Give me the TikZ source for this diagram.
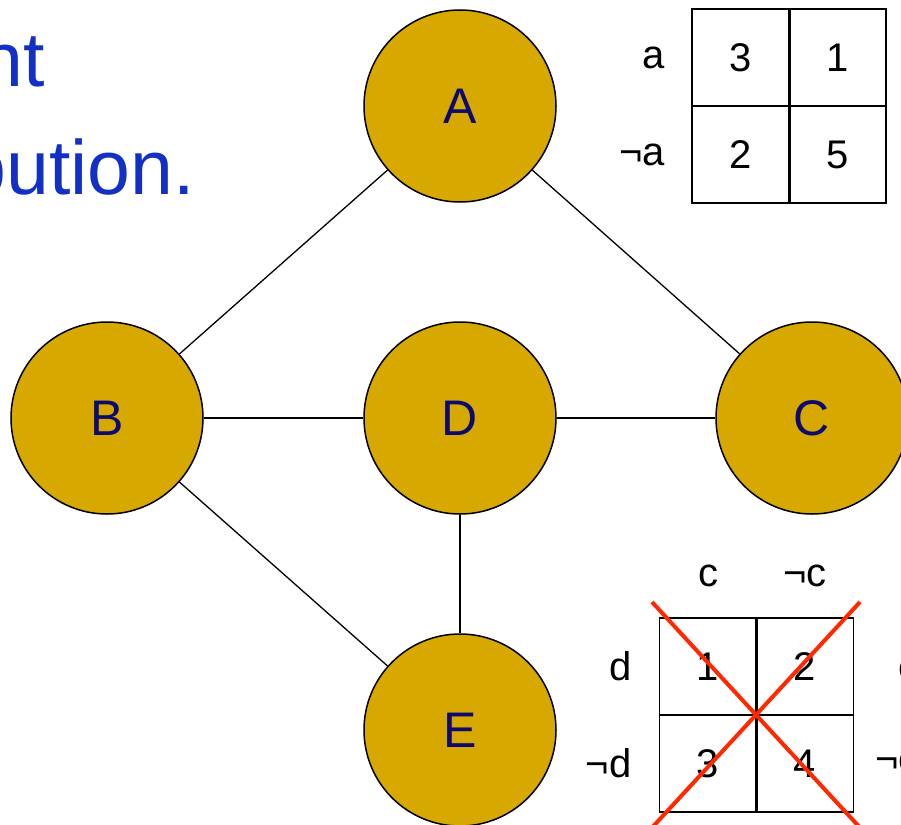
\documentclass[tikz,border=0pt]{standalone}
\usepackage{fontspec}
\setmainfont{Liberation Sans}
\usetikzlibrary{positioning}
\definecolor{nodegold}{RGB}{214,168,0}
\definecolor{labelnavy}{RGB}{12,10,112}
\definecolor{titleblue}{RGB}{18,48,196}
\definecolor{crossred}{RGB}{255,40,0}

\begin{document}
\begin{tikzpicture}[x=1pt, y=-1pt,
  var/.style={circle, draw, line width=1.5pt, fill=nodegold, minimum size=192pt,
    inner sep=0pt, text=labelnavy, font=\fontsize{50}{60}\selectfont},
  cell/.style={draw, line width=1.8pt, minimum size=97pt, inner sep=0pt, outer sep=0pt,
    font=\fontsize{40}{48}\selectfont},
  lbl/.style={inner sep=0pt, font=\fontsize{40}{48}\selectfont},
  link/.style={line width=1.3pt},
  title/.style={inner sep=0pt, text=titleblue, font=\fontsize{77}{90}\selectfont},
]
\useasboundingbox (0,0) rectangle (901,824);
\clip (0,0) rectangle (901,824);

%% slide title (cut off at the left)
\node[title, anchor=base east] (t1) at (45,87) {nt};
\node[title, anchor=base east] (t2) at (195,194) {bution.};

%% variables
\node[var] (A) at (460,106) {A};
\node[var] (B) at (107,418) {B};
\node[var] (D) at (460,418) {D};
\node[var] (C) at (812,418) {C};
\node[var] (E) at (460,730) {E};

\draw[link] (A) -- (B);
\draw[link] (A) -- (C);
\draw[link] (B) -- (D);
\draw[link] (D) -- (C);
\draw[link] (B) -- (E);
\draw[link] (D) -- (E);

%% factor of A
\node[cell] (a11) at (740.5,57.5) {3};
\node[cell, right=0pt of a11] (a12) {1};
\node[cell, below=0pt of a11] (a21) {2};
\node[cell, right=0pt of a21] (a22) {5};
\draw[line width=3pt] (a11.north east) -- (a21.south east);
\node[lbl, left=27pt of a11] (ra1) {a};
\node[lbl, left=27pt of a21] (ra2) {¬a};

%% factor of C and D (crossed out)
\node[cell] (b11) at (708,666.5) {1};
\node[cell, right=0pt of b11] (b12) {2};
\node[cell, below=0pt of b11] (b21) {3};
\node[cell, right=0pt of b21] (b22) {4};
\draw[line width=3pt] (b11.north east) -- (b21.south east);
\node[lbl, above=31pt of b11] (cc1) {c};
\node[lbl, above=31pt of b12] (cc2) {¬c};
\node[lbl, left=28pt of b11] (rd1) {d};
\node[lbl, left=28pt of b21] (rd2) {¬d};

% next table, cut off at the right
\node[lbl, anchor=east] (re1) at (921,670) {e};
\node[lbl, anchor=east] (re2) at (921,762) {¬e};

\coordinate (x1) at (652,602);
\coordinate (x2) at (864,832);
\coordinate (x3) at (860,602);
\coordinate (x4) at (648,832);
\draw[line width=4pt, crossred] (x1) -- (x2);
\draw[line width=4pt, crossred] (x3) -- (x4);

\end{tikzpicture}
\end{document}
